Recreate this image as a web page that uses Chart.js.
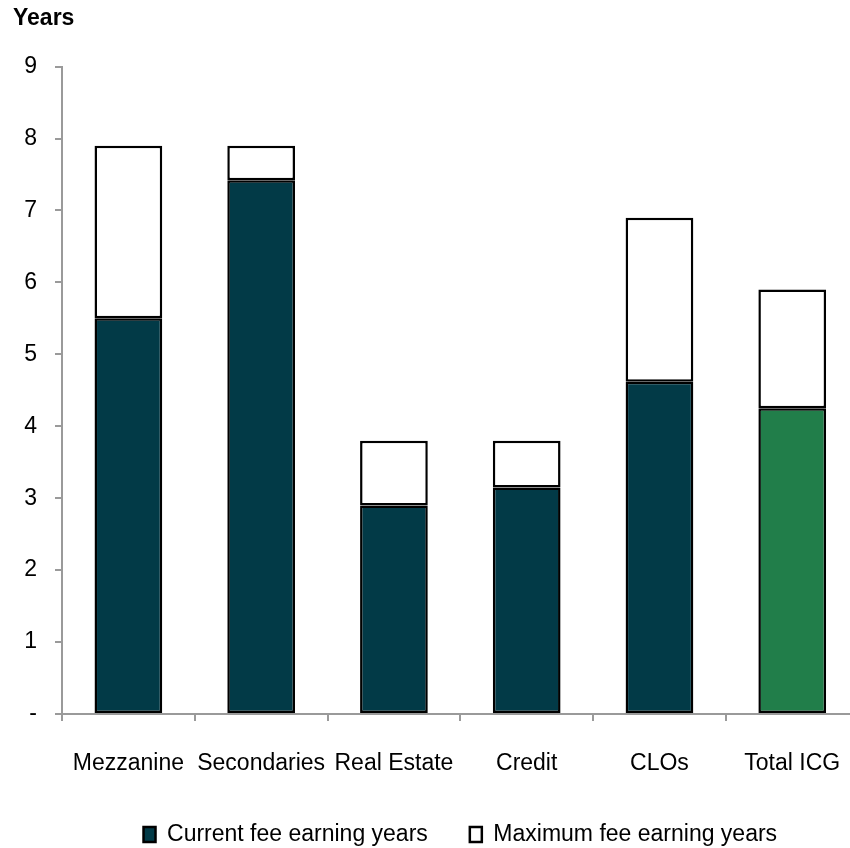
<!DOCTYPE html>
<html>
<head>
<meta charset="utf-8">
<script src="https://cdn.jsdelivr.net/npm/chart.js@4.4.1/dist/chart.umd.min.js"></script>
<style>
  html, body { margin: 0; padding: 0; background: #fff; overflow: hidden; }
  #wrap { width: 870px; height: 856px; }
</style>
</head>
<body>
<div id="wrap"><canvas id="chart" width="870" height="856"></canvas></div>
<script>
// categories and values (years)
const categories = ['Mezzanine', 'Secondaries', 'Real Estate', 'Credit', 'CLOs', 'Total ICG'];
const currentYears = [5.5, 7.42, 2.9, 3.15, 4.62, 4.25];
const maximumYears = [7.9, 7.9, 3.8, 3.8, 6.9, 5.9];
const yTicks = [0, 1, 2, 3, 4, 5, 6, 7, 8, 9];

const teal = '#023a47';
const green = '#217e4a';
const axisGrey = '#9a9a9a';
const font = 'Liberation Sans, Arial, sans-serif';

// stacked on top of current, so the top shows the maximum
const remaining = maximumYears.map((m, i) => +(m - currentYears[i]).toFixed(2));
const currentColors = categories.map(c => c === 'Total ICG' ? green : teal);

const ctx = document.getElementById('chart');
new Chart(ctx, {
    type: 'bar',
    data: {
        labels: categories,
        datasets: [
            {
                label: 'Current fee earning years',
                data: currentYears,
                backgroundColor: currentColors,
                borderColor: '#000',
                borderWidth: 2.5,
                borderSkipped: false,
                categoryPercentage: 1,
                barPercentage: 0.51
            },
            {
                label: 'Maximum fee earning years',
                data: remaining,
                backgroundColor: '#fff',
                borderColor: '#000',
                borderWidth: 2.5,
                borderSkipped: false,
                categoryPercentage: 1,
                barPercentage: 0.51
            }
        ]
    },
    options: {
        responsive: false,
        animation: false,
        layout: { padding: { left: 13, right: 10, top: 0, bottom: 0 } },
        plugins: {
            tooltip: { enabled: false },
            title: {
                display: true,
                text: 'Years',
                align: 'start',
                color: '#000',
                font: { family: font, size: 23, weight: 'bold' },
                padding: { top: 5, bottom: 34 }
            },
            legend: {
                position: 'bottom',
                fullSize: false,
                labels: {
                    color: '#000',
                    font: { family: font, size: 23 },
                    boxWidth: 12,
                    boxHeight: 15,
                    padding: 42
                }
            }
        },
        scales: {
            x: {
                stacked: true,
                border: { color: axisGrey, width: 2 },
                grid: { drawOnChartArea: false, color: axisGrey, lineWidth: 2, tickLength: 7, offset: true },
                ticks: { color: '#000', font: { family: font, size: 23 }, padding: 29, maxRotation: 0, autoSkip: false },
                afterFit: (scale) => { scale.height = 67; }
            },
            y: {
                stacked: true,
                min: 0,
                max: 9,
                border: { color: axisGrey, width: 2 },
                grid: { drawOnChartArea: false, color: axisGrey, lineWidth: 2, tickLength: 7 },
                ticks: {
                    stepSize: 1,
                    color: '#000',
                    font: { family: font, size: 23 },
                    padding: 18,
                    callback: (v) => yTicks.includes(v) ? (v === 0 ? '-' : String(v)) : ''
                },
                afterFit: (scale) => { scale.width = 49; }
            }
        }
    }
});
</script>
</body>
</html>
